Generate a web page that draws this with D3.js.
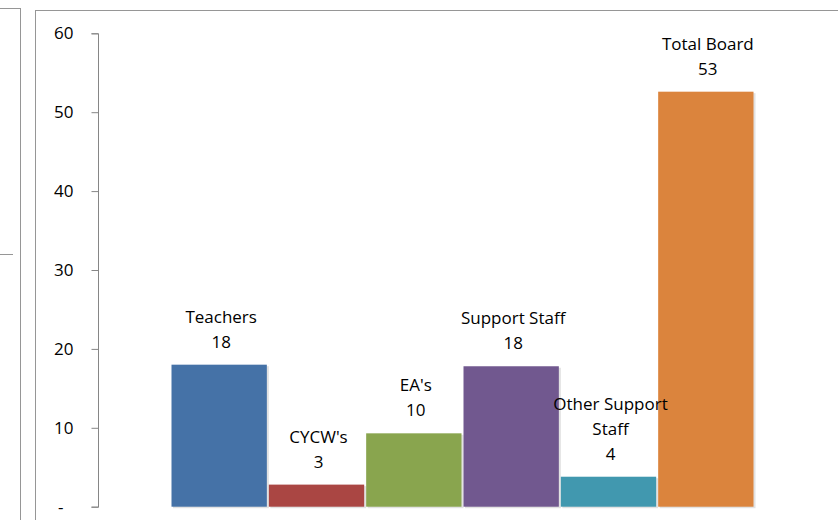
<!DOCTYPE html>
<html><head><meta charset="utf-8">
<script src="https://cdn.jsdelivr.net/npm/d3@7"></script>
<style>html,body{margin:0;padding:0;background:#fff;overflow:hidden}</style>
</head><body>
<svg id="chart" width="838" height="520"></svg>
<script>
const categories = ["Teachers", "CYCW's", "EA's", "Support Staff", "Other Support Staff", "Total Board"];
const values = [18, 2.8, 9.3, 17.8, 3.8, 52.6];
const valueLabels = ["18", "3", "10", "18", "4", "53"];
const nameLines = [["Teachers"], ["CYCW's"], ["EA's"], ["Support Staff"], ["Other Support", "Staff"], ["Total Board"]];
const colors = ["#4572A7", "#AA4643", "#89A54E", "#71588F", "#4198AF", "#DB843D"];
const yTicks = [0, 10, 20, 30, 40, 50, 60];

const svg = d3.select("#chart");
const font = "'Open Sans', 'Noto Sans', sans-serif";

// frames
svg.append("rect").attr("x", -10).attr("y", 8.5).attr("width", 30.5).attr("height", 530)
  .attr("fill", "none").attr("stroke", "#969696").attr("stroke-width", 1);
svg.append("line").attr("x1", 0).attr("x2", 13).attr("y1", 254.5).attr("y2", 254.5)
  .attr("stroke", "#969696");
svg.append("rect").attr("x", 35.5).attr("y", 10.5).attr("width", 830).attr("height", 530)
  .attr("fill", "none").attr("stroke", "#969696").attr("stroke-width", 1);

const y = d3.scaleLinear().domain([0, 60]).range([506.7, 33.3]);
const x = d3.scaleBand().domain(categories).range([170.5, 754.5]).padding(0);

// axis
const axis = d3.axisLeft(y).tickValues(yTicks).tickSize(7).tickPadding(18)
  .tickFormat(d => d === 0 ? "-" : d);
const ag = svg.append("g").attr("transform", "translate(98.5,0)").call(axis);
ag.select(".domain").attr("stroke", "#868686").attr("d", "M-7," + (y(60)+0.5) + "H0V" + (y(0)+0.5) + "H-7");
ag.selectAll(".tick line").attr("stroke", "#868686");
ag.selectAll(".tick text").attr("font-family", font).attr("font-size", 17).attr("fill", "#000");
ag.selectAll(".tick text").filter(d => d === 0).attr("dx", -10);

// bars
const data = categories.map((c, i) => ({c, v: values[i], lab: valueLabels[i], lines: nameLines[i], col: colors[i]}));
svg.append("g").selectAll("rect").data(data).join("rect")
  .attr("x", d => x(d.c) + 2.5).attr("y", d => y(d.v) + 1.5)
  .attr("width", x.bandwidth() - 1.5).attr("height", d => y(0) - y(d.v))
  .attr("fill", "#e2e2e2");
svg.append("g").selectAll("rect").data(data).join("rect")
  .attr("x", d => x(d.c) + 1).attr("y", d => y(d.v))
  .attr("width", x.bandwidth() - 2).attr("height", d => y(0) - y(d.v))
  .attr("fill", d => d.col);

// labels
const lg = svg.append("g").attr("font-family", font).attr("font-size", 17).attr("fill", "#000").attr("text-anchor", "middle");
data.forEach(d => {
  const lines = d.lines.concat([d.lab]);
  const cx = x(d.c) + x.bandwidth() / 2 + 2;
  const lastCenter = y(d.v) - 23;
  lines.forEach((t, k) => {
    const cy = lastCenter - (lines.length - 1 - k) * 25;
    lg.append("text").attr("x", cx).attr("y", cy + 6).text(t);
  });
});
</script>
</body></html>
